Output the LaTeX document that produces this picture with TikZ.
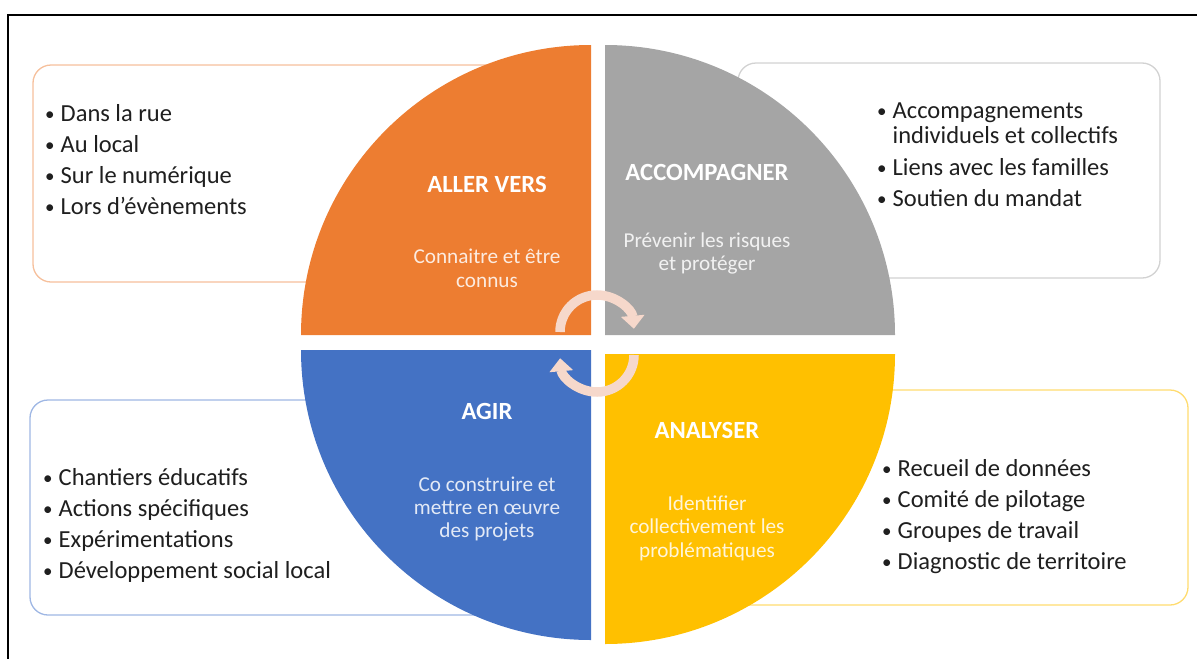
\documentclass[tikz,border=0pt]{standalone}
\usepackage{fontspec}
\setmainfont{Carlito}
\usetikzlibrary{arrows.meta}

\definecolor{qorange}{HTML}{ED7D31}
\definecolor{qgray}{HTML}{A5A5A5}
\definecolor{qblue}{HTML}{4472C4}
\definecolor{qyellow}{HTML}{FFC000}
\definecolor{borange}{HTML}{F6C09C}
\definecolor{bgray}{HTML}{D2D2D2}
\definecolor{bblue}{HTML}{9FB7E4}
\definecolor{byellow}{HTML}{FFDC70}
\definecolor{cyclecol}{HTML}{F6D8CB}

\newcommand\itemdot{\makebox[15.5pt][l]{\raisebox{1pt}{\fontsize{19}{19}\selectfont\textbullet}}}

\begin{document}
\begin{tikzpicture}[x=1pt,y=1pt,
  listbox/.style={rounded corners=18pt, line width=1.3pt, fill=white},
  item/.style={anchor=base west, inner sep=0pt, text=black!88,
    font=\fontsize{24.5}{28}\selectfont},
  title/.style={anchor=base, inner sep=0pt, text=white,
    font=\fontsize{24.7}{28}\selectfont\bfseries},
  sub/.style={anchor=base, inner sep=0pt, text=white, text opacity=0.85,
    font=\fontsize{21.2}{24}\selectfont},
  cycle arrow/.style={draw=cyclecol, line width=9.5pt,
    -{Triangle[width=23pt,length=13pt,fill=cyclecol]}}
]
\useasboundingbox (0,0) rectangle (1197,-659);

% outer frame (open at right and bottom)
\draw[line width=2pt] (1197,-15) -- (8,-15) -- (8,-659);

% list boxes, partly hidden behind the wheel
\draw[listbox, draw=borange] (33,-65) rectangle (540,-282);
\draw[listbox, draw=bgray] (738,-63) rectangle (1160,-278);
\draw[listbox, draw=bblue] (30,-400) rectangle (540,-615);
\draw[listbox, draw=byellow] (680,-390) rectangle (1188,-605);

% the four quarters of the wheel
\fill[qorange] (591,-335) -- ++(-290,0) arc[start angle=180, end angle=90, radius=290pt] -- cycle;
\fill[qgray] (605,-335) -- ++(0,290) arc[start angle=90, end angle=0, radius=290pt] -- cycle;
\fill[qblue] (591,-350) -- ++(-290,0) arc[start angle=180, end angle=270, radius=290pt] -- cycle;
\fill[qyellow] (605,-354) -- ++(290,0) arc[start angle=0, end angle=-90, radius=290pt] -- cycle;

% cycle arrows in the middle
\draw[cycle arrow] (597,-332) ++(180:37) arc[start angle=180, end angle=5, radius=37pt];
\draw[cycle arrow] (597,-355) ++(0:37) arc[start angle=0, end angle=-175, radius=37pt];

% titles and subtitles
\node[title] (t1) at (487,-192) {ALLER VERS};
\node[sub] (s1a) at (487,-263) {Connaitre et être};
\node[sub] (s1b) at (487,-287) {connus};

\node[title] (t2) at (707,-180) {ACCOMPAGNER};
\node[sub] (s2a) at (707,-247) {Prévenir les risques};
\node[sub] (s2b) at (707,-270) {et protéger};

\node[title] (t3) at (487,-419) {AGIR};
\node[sub] (s3a) at (487,-491) {Co construire et};
\node[sub] (s3b) at (487,-514) {mettre en œuvre};
\node[sub] (s3c) at (487,-537) {des projets};

\node[title] (t4) at (707,-438) {ANALYSER};
\node[sub] (s4a) at (707,-510) {Identifier};
\node[sub] (s4b) at (707,-533) {collectivement les};
\node[sub] (s4c) at (707,-557) {problématiques};

% bullet lists
\node[item] (o1) at (45,-121) {\itemdot Dans la rue};
\node[item] (o2) at (45,-152) {\itemdot Au local};
\node[item] (o3) at (45,-183) {\itemdot Sur le numérique};
\node[item] (o4) at (45,-214) {\itemdot Lors d’évènements};

\node[item] (g1) at (877,-118) {\itemdot Accompagnements};
\node[item] (g2) at (877,-143) {\hspace*{15.5pt}individuels et collectifs};
\node[item] (g3) at (877,-175) {\itemdot Liens avec les familles};
\node[item] (g4) at (877,-206) {\itemdot Soutien du mandat};

\node[item] (b1) at (43,-485) {\itemdot Chantiers éducatifs};
\node[item] (b2) at (43,-516) {\itemdot Actions spécifiques};
\node[item] (b3) at (43,-547) {\itemdot Expérimentations};
\node[item] (b4) at (43,-578) {\itemdot Développement social local};

\node[item] (y1) at (882,-476) {\itemdot Recueil de données};
\node[item] (y2) at (882,-507) {\itemdot Comité de pilotage};
\node[item] (y3) at (882,-538) {\itemdot Groupes de travail};
\node[item] (y4) at (882,-569) {\itemdot Diagnostic de territoire};
\end{tikzpicture}
\end{document}
